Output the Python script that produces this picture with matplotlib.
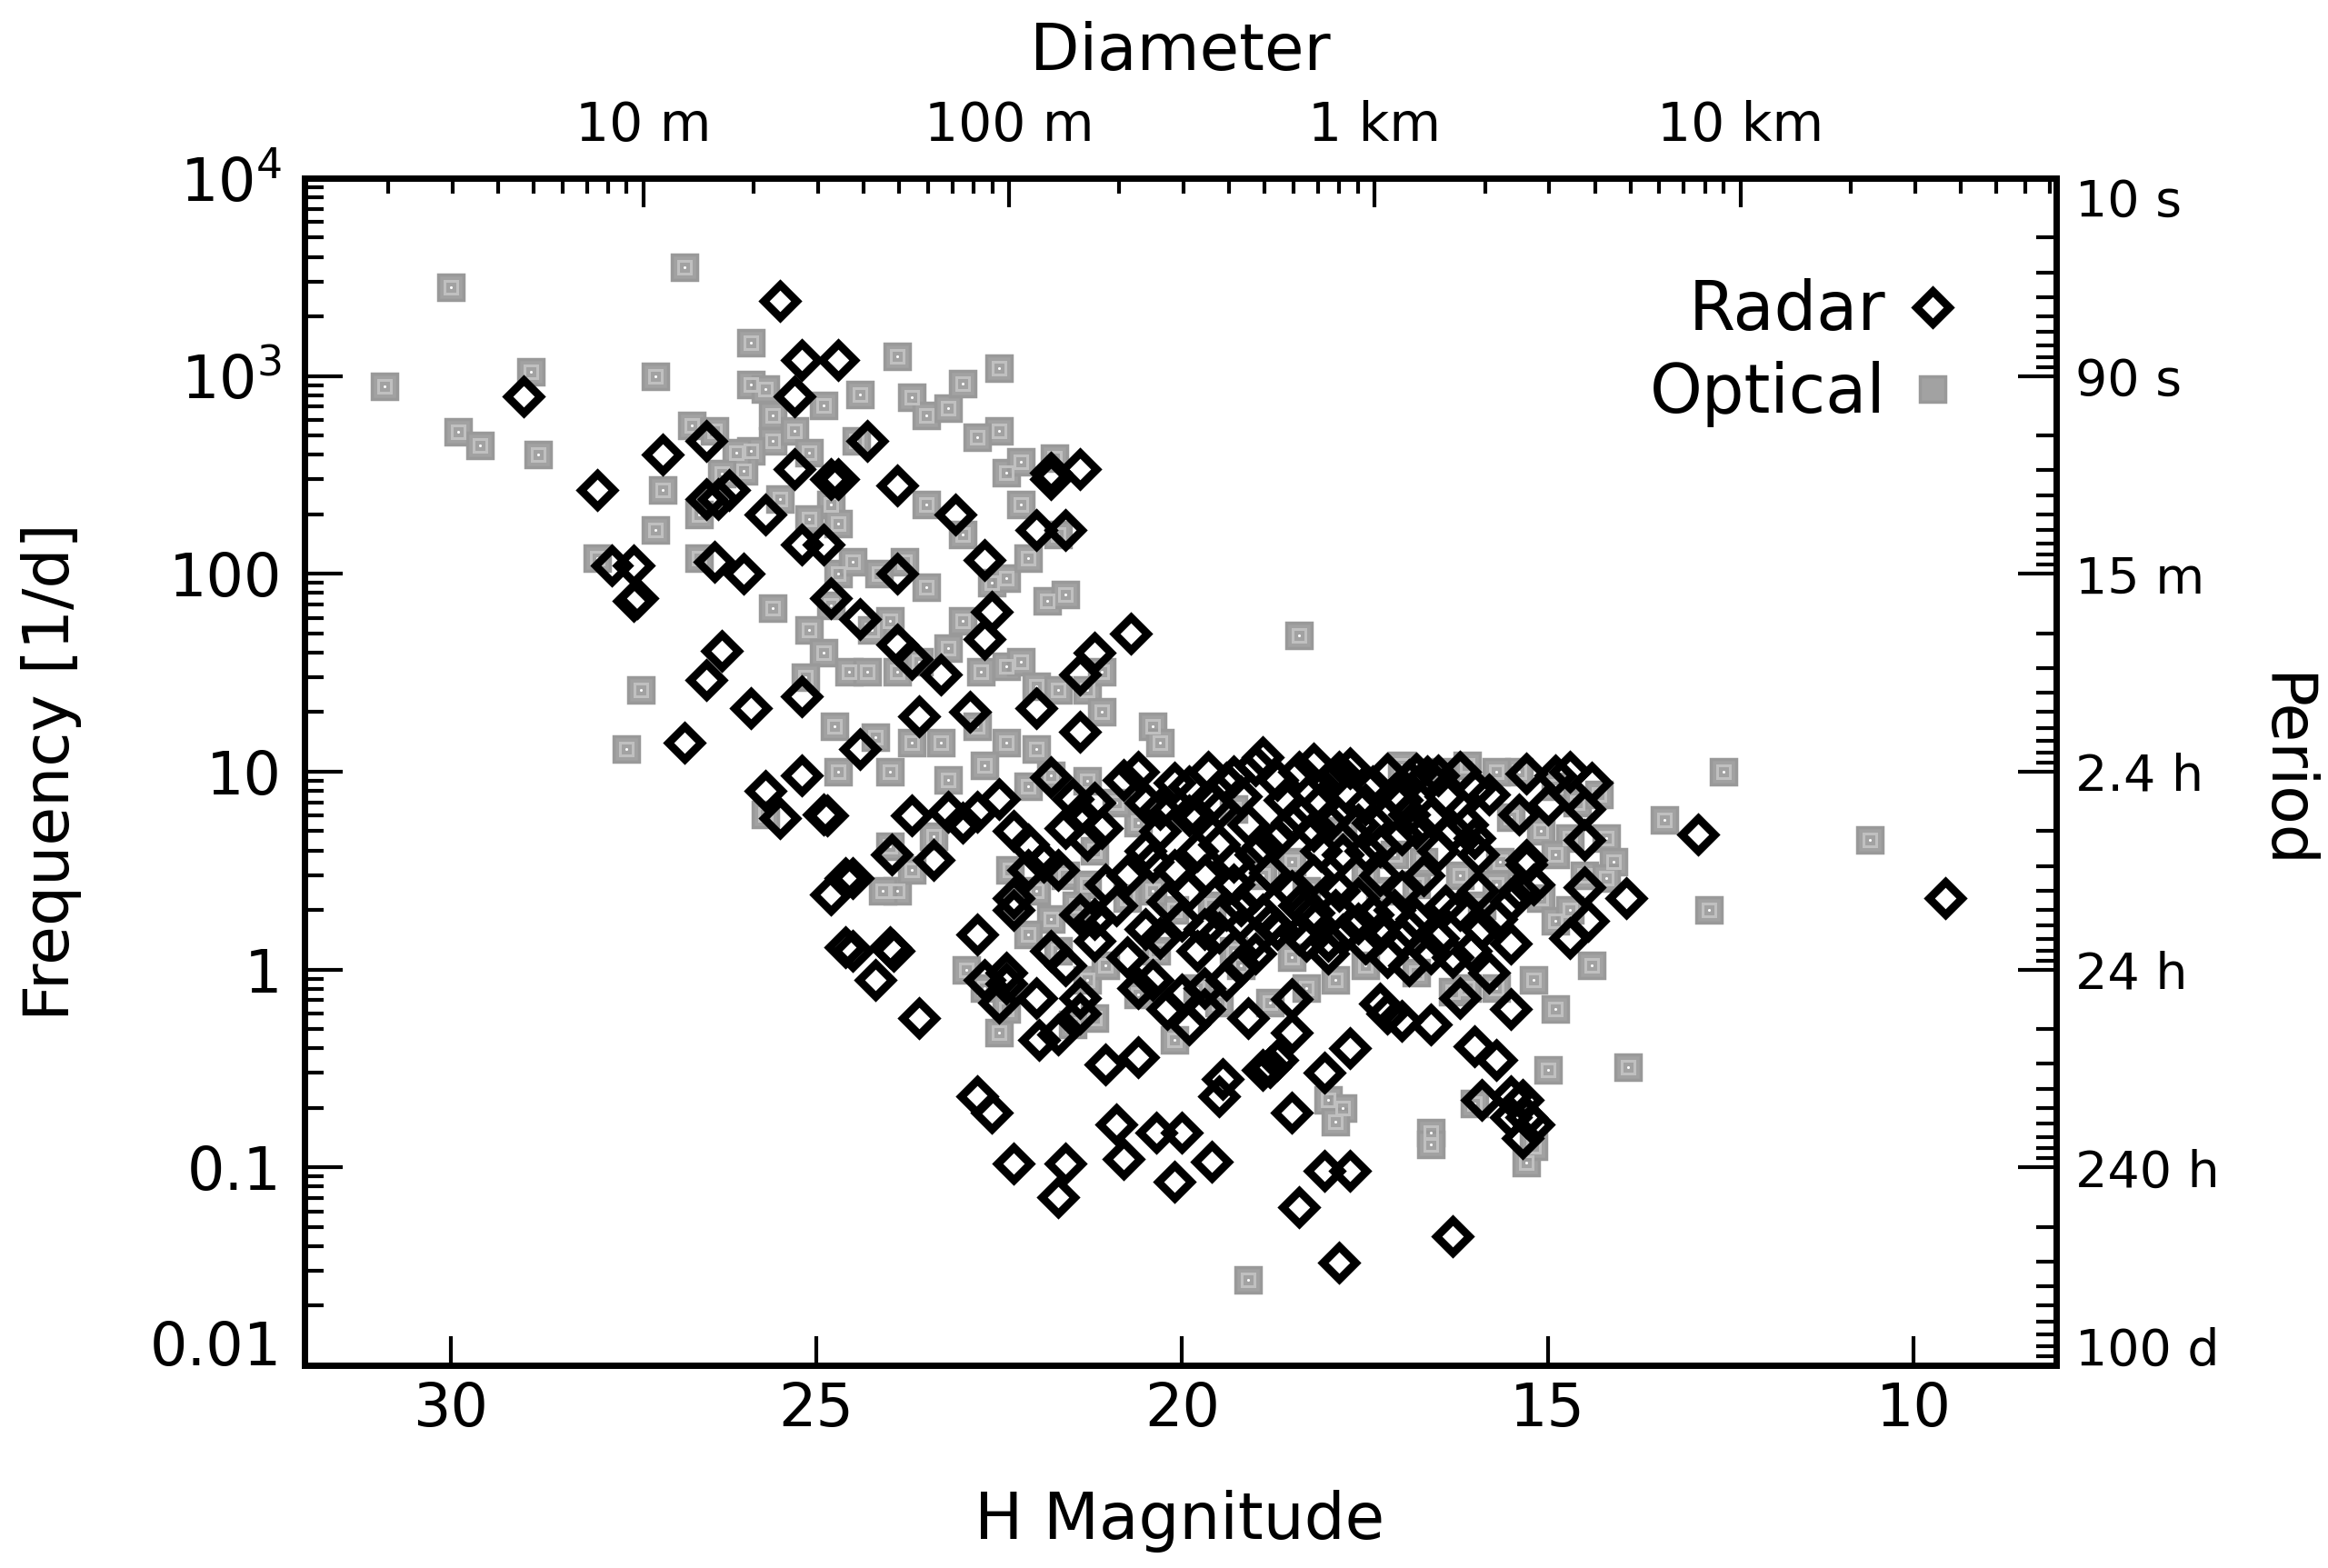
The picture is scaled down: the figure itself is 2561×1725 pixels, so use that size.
import numpy as np
import matplotlib
matplotlib.use('Agg')
import matplotlib.pyplot as plt
from matplotlib.ticker import FixedLocator, NullFormatter, LogLocator

# radar rotation frequencies, H magnitude vs frequency [1/d]
radar_h = [
    25.5, 29.0, 25.2, 24.7, 25.3, 27.1, 26.5, 28.0, 25.3, 24.8,
    24.7, 24.3, 23.9, 26.5, 26.35, 26.2, 25.7, 23.1, 22.7, 25.2,
    24.9, 27.8, 27.5, 27.5, 27.45, 26.4, 26.0, 23.9, 24.8, 24.4,
    22.6, 23.9, 23.7, 22.7, 21.8, 21.8, 21.4, 22.0, 21.6, 20.7,
    21.2, 21.4, 21.4, 22.0, 26.3, 26.5, 26.8, 25.9, 25.2, 23.3,
    23.6, 22.9, 24.4, 25.2, 25.7, 25.5, 24.9, 24.85, 23.7, 23.4,
    23.97, 24.5, 24.6, 24.8, 24.6, 24.5, 24.0, 23.95, 24.2, 23.6,
    # dense left part
    23.2, 23.0, 22.8, 22.5, 22.3, 22.1, 21.9, 22.1, 21.7, 21.6,
    21.4, 21.3, 21.8, 21.5, 21.2, 21.1, 20.8, 20.6, 20.5, 21.05,
    20.75, 20.9, 21.2, 21.4, 21.2, 21.6, 21.8, 21.4, 21.4, 22.0,
    22.3, 22.3, 22.8, 22.7, 22.4, 22.4, 22.5, 21.96, 21.7,
    # slow rotators
    22.8, 22.6, 22.3, 21.6, 21.7, 21.05, 20.6, 20.9, 20.8, 20.35,
    20.0, 20.1, 19.6, 19.5, 19.45, 19.9, 20.2, 19.1, 18.9, 18.8,
    18.7, 18.5, 18.5, 18.5, 18.4, 18.05, 17.7, 17.85, 18.05, 17.7,
    17.2, 17.3, 17.0, 16.6, 16.3, 16.2, 16.0, 15.7, 15.5, 15.35,
    15.5, 15.3, 15.35, 15.2, 15.5, 15.9,
    # upper band
    20.1, 19.9, 19.65, 19.4, 19.0, 18.9, 18.7, 18.4, 18.2, 18.0,
    17.85, 17.7, 17.4, 17.1, 16.9, 16.8, 16.65, 16.5, 16.2, 15.8,
    15.4, 15.3, 14.9, 14.7, 14.4, 14.5, 15.0,
    # middle band
    20.3, 19.8, 19.5, 19.1, 19.0, 18.7, 18.4, 18.2, 17.9, 17.8,
    17.6, 17.3, 16.9, 16.6, 16.3, 16.1, 15.95, 15.3, 15.4, 15.2,
    15.5, 15.95, 16.4, 20.1, 19.9, 19.7, 19.3, 19.0, 18.8, 18.5,
    18.2, 17.85, 17.6, 17.3, 16.7,
    # lower band
    20.5, 20.3, 20.0, 19.8, 19.5, 19.2, 19.0, 18.7, 18.4, 18.2,
    18.0, 17.8, 17.5, 17.3, 17.0, 16.9, 16.5, 16.3, 16.05, 15.8,
    15.5, 15.9, 14.7, 14.45, 17.1, 17.0, 20.75, 20.6, 20.4, 20.0,
    19.7, 19.4, 19.2, 19.7,
    # crowded core
    19.6, 19.2, 18.6, 18.1, 17.5, 17.0, 16.4, 16.0,
    19.8, 19.3, 18.9, 18.1, 17.5, 17.0, 16.5, 16.0,
    19.4, 18.9, 18.4, 17.9, 17.4, 16.8, 16.2, 15.7,
    20.2, 20.5, 20.3, 19.0, 18.0, 17.2, 16.6,
    19.9, 19.5, 18.5, 18.0, 17.4, 16.8, 19.7, 18.8, 18.3, 17.6,
    16.9, 20.4, 19.3, 17.9, 17.2,
    # bright ones
    14.5, 13.93, 12.95, 9.57, 15.3, 14.5,
]
radar_f = [
    2400, 790, 1200, 1200, 790, 400, 470, 265, 340, 300,
    300, 470, 280, 240, 240, 265, 200, 200, 118, 140,
    140, 110, 110, 73, 75, 115, 100, 100, 75, 59,
    64, 44, 37, 47, 325, 300, 340, 166, 166, 50,
    40, 31, 16, 21, 41, 29, 14, 21, 24, 31,
    19, 20, 13, 9.6, 8, 5.8, 6.1, 6.0, 6, 3.6,
    3.8, 2.9, 2.9, 2.4, 1.3, 1.25, 1.3, 1.25, 0.89, 0.57,
    6.3, 5.5, 6.3, 7.3, 5.0, 4.3, 3.5, 3.2, 3.2, 5.2,
    6.1, 4.5, 9.4, 7.3, 7.0, 5.2, 9.1, 10, 7.0, 2.7,
    3.0, 2.1, 1.8, 1.9, 1.4, 1.05, 1.25, 0.72, 0.6, 0.72,
    2.0, 2.3, 1.5, 0.89, 0.97, 0.85, 0.68, 0.44, 0.47,
    0.23, 0.19, 0.105, 0.105, 0.071, 0.33, 0.36, 0.165, 0.11, 0.15,
    0.15, 0.085, 0.107, 0.23, 0.28, 0.53, 0.63, 0.57, 0.31, 0.32,
    0.35, 0.48, 0.71, 0.19, 0.063, 0.096, 0.096, 0.033, 0.30, 0.40,
    0.6, 0.67, 0.55, 0.53, 0.045, 0.72, 0.41, 0.35, 0.23, 0.22,
    0.18, 0.18, 0.14, 0.165, 0.63, 0.22,
    8.8, 8.4, 10, 8.8, 10.8, 11.8, 9.1, 10, 11, 8.8,
    10, 10.4, 8.4, 7.7, 9.1, 9.8, 9.5, 9.6, 10, 7.7,
    6.1, 9.8, 9.6, 10, 8.8, 6.5, 6.8,
    5.0, 5.9, 4.3, 5.4, 3.8, 4.6, 6.1, 5.0, 6.1, 3.8,
    5.4, 4.2, 6.1, 5.9, 5.0, 5.4, 3.8, 3.4, 2.5, 2.7,
    2.2, 2.5, 2.1, 3.2, 2.5, 3.0, 2.7, 2.5, 3.1, 2.5,
    3.0, 2.5, 2.3, 3.0, 3.0,
    1.6, 1.44, 1.77, 1.25, 1.54, 2.1, 1.44, 1.6, 1.5, 1.93,
    1.4, 1.5, 1.36, 1.54, 1.44, 1.05, 1.44, 1.15, 1.25, 0.97,
    1.36, 1.6, 1.44, 1.77, 2.0, 2.5, 1.15, 0.81, 0.89, 0.75,
    0.81, 0.89, 1.05, 0.63,
    7.0, 7.5, 7.2, 7.0, 6.8, 7.2, 7.5, 8.2,
    4.0, 3.5, 4.2, 4.0, 4.0, 4.8, 4.0, 4.6,
    2.0, 1.9, 2.1, 2.0, 1.9, 1.8, 2.0, 1.8,
    2.2, 4.0, 6.5, 1.2, 1.2, 1.15, 1.2,
    6.0, 6.5, 5.5, 5.5, 5.5, 5.2, 1.6, 1.7, 1.4, 1.7,
    1.6, 3.5, 9.5, 9.5, 9.8,
    2.6, 2.3, 4.8, 2.3, 3.6, 4.5,
]

# optical lightcurve frequencies
opt_h = [
    30.9, 30.0, 29.9, 29.6, 28.9, 28.8, 27.2, 26.8, 28.0, 27.2,
    26.6, 26.6, 26.7, 26.4, 25.9, 25.9, 25.7, 25.6, 25.6, 25.3,
    24.9, 24.4, 24.45, 23.9, 23.7, 23.5, 23.2, 23.0, 22.5, 22.5,
    22.8, 25.9, 26.0, 26.1, 26.3, 27.1, 25.1, 24.8, 24.7, 25.5,
    25.1, 24.7, 24.5, 24.15, 23.8, 23.5, 23.5, 22.4, 22.2, 21.75,
    22.2, 23.0, 22.6, 22.4, 22.1, 21.85, 21.6, 21.7, 24.8, 25.6,
    25.1, 24.0, 24.25, 24.9, 24.55, 25.15, 24.3, 23.9, 23.6, 23.2,
    23.0, 22.75, 22.4, 22.2, 22.0, 21.7, 21.3, 21.1, 21.1, 20.4,
    20.3, 18.4, 27.4, 27.6,
    24.75, 24.2, 24.0, 23.7, 23.3, 22.8, 22.4, 22.0, 21.8, 21.3,
    25.7, 24.7, 24.0, 23.9, 24.1, 23.7, 23.2, 22.7, 22.1, 23.4,
    22.35, 22.0, 21.6, 21.3, 21.45, 20.75, 21.8, 22.1, 21.7, 21.3,
    21.05, 21.5, 21.2, 20.6, 20.1, 22.95, 22.7, 22.5, 22.4, 20.35,
    19.8, 19.5, 19.2, 18.8, 18.3, 17.9, 17.5, 16.8, 16.3, 16.1,
    15.7, 15.2, 14.9, 18.0, 17.8, 17.9, 19.1, 16.6, 16.6, 16.0,
    15.3, 15.2, 15.0, 13.9, 14.4,
    15.4, 14.9, 14.6, 14.3, 15.5, 15.1, 14.7, 14.2, 14.1, 14.5,
    14.9, 15.65, 15.1, 14.9, 14.7, 14.2, 13.4, 12.6, 12.8, 10.6,
    19.3, 18.5, 17.8, 17.3, 16.8, 16.2, 15.9, 15.7, 16.7, 17.1,
    17.5, 16.4, 16.1, 15.7, 17.0, 18.3, 18.9, 19.6, 20.1, 20.4,
    19.3, 18.5, 21.2, 20.6, 20.9,
]
opt_f = [
    890, 2800, 525, 445, 1050, 400, 1000, 3550, 120, 166,
    200, 120, 560, 530, 1480, 910, 860, 630, 470, 530,
    710, 810, 470, 1260, 780, 630, 690, 920, 1090, 530,
    490, 420, 330, 410, 320, 265, 410, 225, 180, 240,
    190, 100, 115, 100, 115, 86, 225, 325, 370, 385,
    225, 158, 90, 95, 120, 73, 79, 158, 69, 67,
    52, 58, 52, 40, 32, 30, 32, 32, 36, 42,
    58, 32, 34, 36, 27, 26, 26, 32, 20, 17,
    14, 49, 26, 13,
    17, 15, 10, 14, 14, 17, 14, 13, 9.6, 9.0,
    6.1, 10, 4.2, 2.5, 2.5, 3.2, 9.1, 10.8, 8.4, 4.7,
    3.2, 2.5, 3.0, 2.7, 2.1, 2.3, 1.8, 1.5, 1.25, 0.89,
    1.05, 0.53, 0.57, 0.75, 0.44, 1.0, 0.81, 0.48, 0.63, 1.25,
    0.81, 0.68, 1.05, 0.68, 0.81, 0.89, 1.05, 0.97, 0.77, 0.81,
    0.81, 0.89, 0.63, 0.22, 0.20, 0.17, 0.027, 0.15, 0.13, 0.21,
    0.106, 0.128, 0.31, 0.32, 1.05,
    10, 8.4, 7.0, 7.7, 5.9, 5.0, 4.6, 4.6, 3.5, 3.0,
    3.8, 3.5, 2.3, 1.77, 2.0, 2.9, 5.7, 10, 2.0, 4.5,
    6.5, 3.5, 5.0, 2.5, 2.7, 3.0, 2.1, 2.7, 3.5, 3.8,
    3.0, 10, 10.8, 10, 10.8, 2.5, 3.0, 2.1, 2.0, 2.5,
    1.25, 1.15, 4.0, 5.5, 7.0,
]

freq_ticks = [0.01, 0.1, 1, 10, 100, 1000, 10000]
freq_labels = ['0.01', '0.1', '1', '10', '100', '10$^3$', '10$^4$']
period_labels = ['100 d', '240 h', '24 h', '2.4 h', '15 m', '90 s', '10 s']
h_ticks = [30, 25, 20, 15, 10]
diam_ticks_m = [10, 100, 1000, 10000]
diam_labels = ['10 m', '100 m', '1 km', '10 km']
albedo = 0.2

plt.rcParams['font.family'] = ['DejaVu Sans']
plt.rcParams['mathtext.default'] = 'regular'


def diam_to_h(d_m):
    return 5 * np.log10(1329e3 / (np.sqrt(albedo) * np.asarray(d_m, float)))


fig = plt.figure(figsize=(25.61, 17.25), dpi=100)
ax = fig.add_axes([0.1308, 0.1293, 0.7524, 0.7571])

h_opt, = ax.plot(opt_h, opt_f, ls='none', marker='s', ms=20, mfc='#a2a2a2',
                 mec='#999999', mew=2.5, zorder=2)
ax.plot(opt_h, opt_f, ls='none', marker='s', ms=10.5, mfc='none', mec='#c0c0c0',
        mew=2.2, zorder=2.1)
ax.plot(opt_h, opt_f, ls='none', marker='o', ms=2.2, mfc='white', mec='none',
        zorder=2.2)
h_rad, = ax.plot(radar_h, radar_f, ls='none', marker='D', ms=18.5, mfc='none',
                 mec='black', mew=6.3, zorder=3)

xlim = (32.0, 8.05)
ax.set_xlim(*xlim)
ax.set_yscale('log')
ax.set_ylim(0.01, 1e4)

ax.set_xticks(h_ticks)
ax.set_xticklabels([str(t) for t in h_ticks])
ax.set_yticks(freq_ticks)
ax.set_yticklabels(freq_labels)
ax.yaxis.set_minor_locator(LogLocator(base=10, subs=np.arange(2, 10), numticks=100))
ax.yaxis.set_minor_formatter(NullFormatter())
ax.tick_params(axis='x', which='major', direction='in', length=23, width=3,
               pad=12, labelsize=47, top=False)
ax.tick_params(axis='y', which='major', direction='in', length=30, width=3,
               pad=18, labelsize=47, right=False)
ax.tick_params(axis='y', which='minor', direction='in', length=15, width=3,
               right=False)

# top axis: diameter
axt = ax.twiny()
axt.set_xlim(*xlim)
axt.set_xticks(diam_to_h(diam_ticks_m))
axt.set_xticklabels(diam_labels)
minor_d = [k * 10.0 ** n for n in range(0, 5) for k in range(2, 10)]
minor_h = [h for h in diam_to_h(minor_d) if xlim[1] < h < xlim[0]]
axt.xaxis.set_minor_locator(FixedLocator(minor_h))
axt.xaxis.set_minor_formatter(NullFormatter())
axt.tick_params(axis='x', which='major', direction='in', length=23, width=3,
                pad=21, labelsize=42)
axt.tick_params(axis='x', which='minor', direction='in', length=12, width=3)

# right axis: period
axr = ax.twinx()
axr.set_yscale('log')
axr.set_ylim(0.01, 1e4)
axr.set_yticks(freq_ticks)
axr.set_yticklabels(period_labels)
minor_f = [10.0 ** (n + 1) / k for n in range(-2, 4) for k in range(2, 10)]
axr.yaxis.set_minor_locator(FixedLocator(minor_f))
axr.yaxis.set_minor_formatter(NullFormatter())
axr.tick_params(axis='y', which='major', direction='in', length=30, width=3,
                pad=15, labelsize=40)
axr.tick_params(axis='y', which='minor', direction='in', length=16, width=3)

# end labels sit a little inside the frame in the original
ax.get_yticklabels()[0].set_va('baseline')
axr.get_yticklabels()[0].set_va('baseline')
axr.get_yticklabels()[-1].set_va('top')

for a in (ax, axt, axr):
    for s in a.spines.values():
        s.set_linewidth(5)

ax.legend([h_rad, h_opt], ['Radar', 'Optical'], loc='upper right',
          bbox_to_anchor=(0.9486, 0.9155), frameon=False, markerfirst=False,
          borderpad=0, borderaxespad=0, handlelength=1.0, handletextpad=0.2,
          labelspacing=0.24, fontsize=53)

fig.text(57 / 2561, 1 - 849 / 1725, 'Frequency [1/d]', rotation=90,
         ha='center', va='center', fontsize=50)
fig.text(2512 / 2561, 1 - 849 / 1725, 'Period', rotation=-90,
         ha='center', va='center', fontsize=50)
fig.text(1298 / 2561, 1 - 57 / 1725, 'Diameter', ha='center', va='center',
         fontsize=51)
fig.text(1298 / 2561, 1 - 1674 / 1725, 'H Magnitude', ha='center',
         va='center', fontsize=51)

fig.savefig('out.png', dpi=100)
